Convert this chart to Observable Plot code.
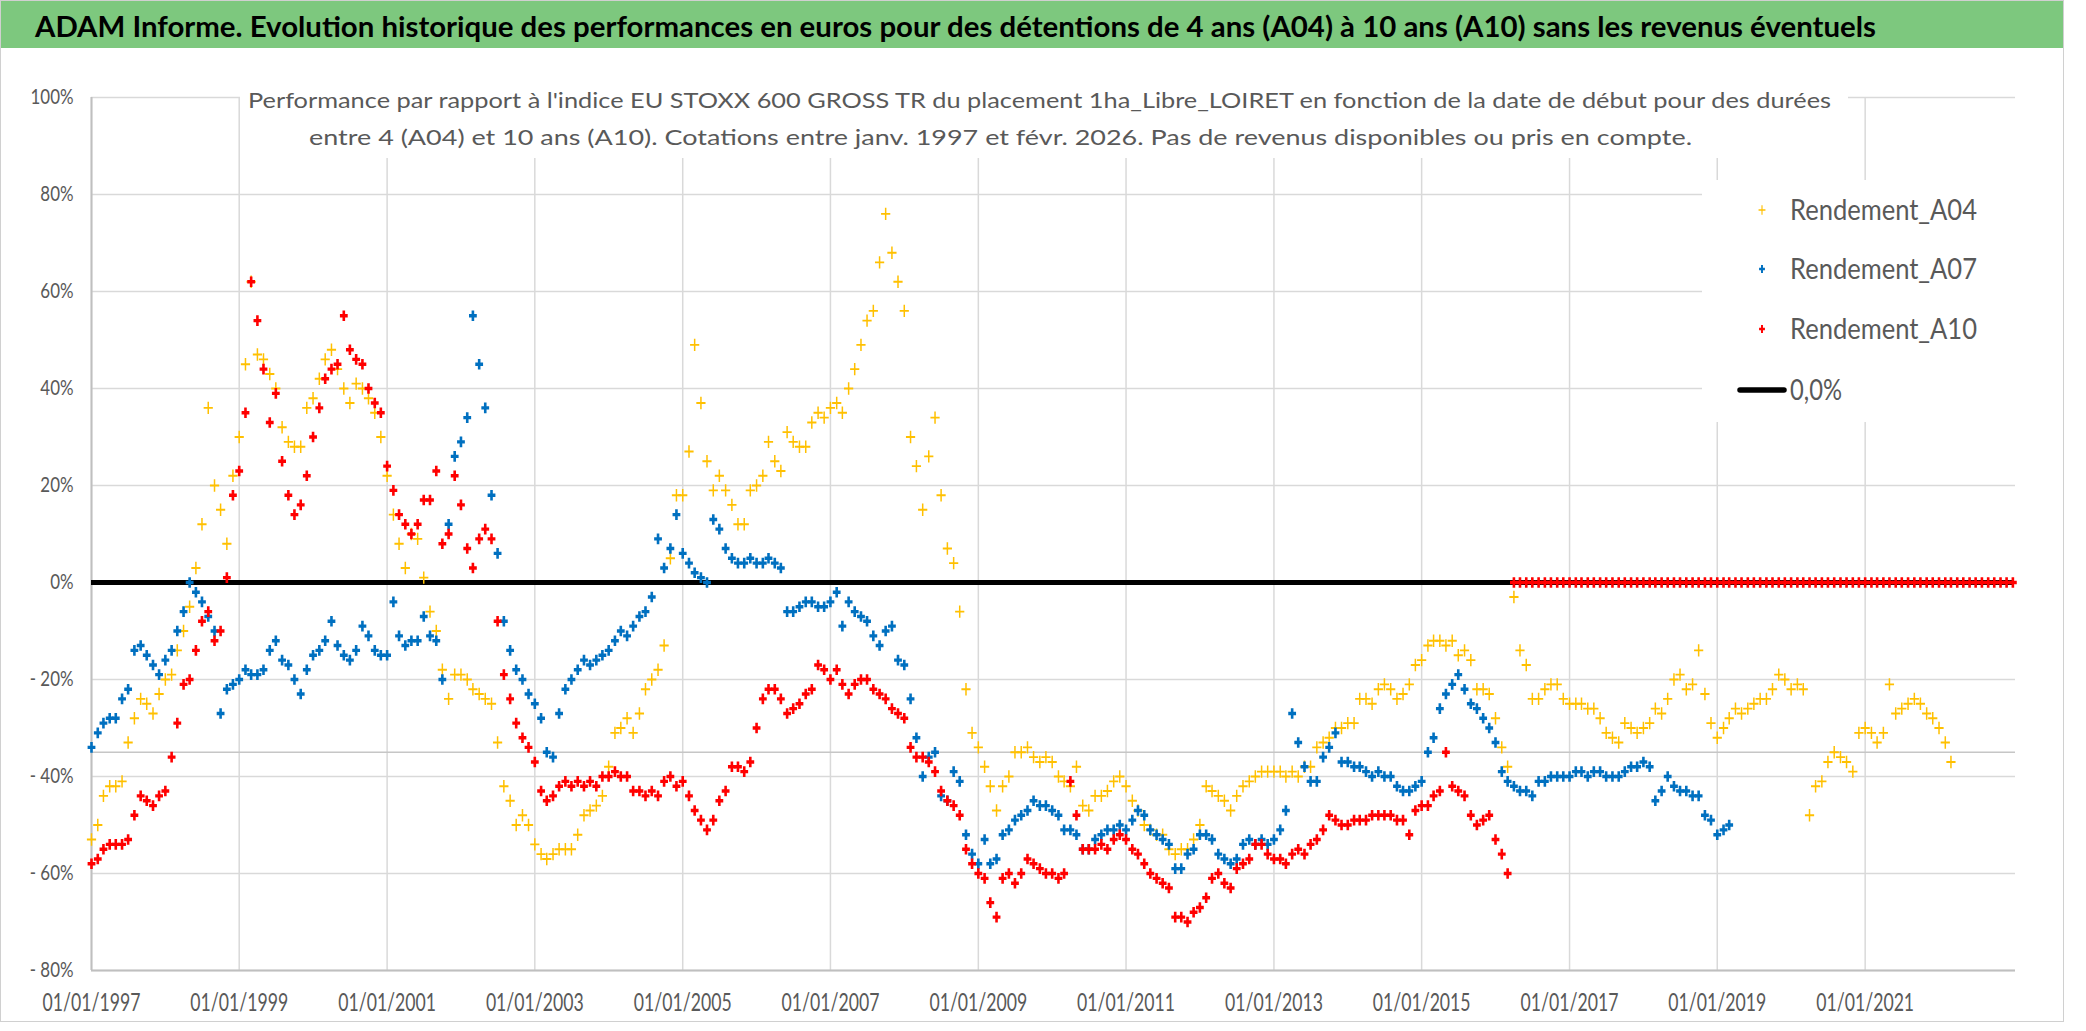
<!DOCTYPE html>
<html><head><meta charset="utf-8">
<script src="https://cdn.jsdelivr.net/npm/d3@7"></script>
<script src="https://cdn.jsdelivr.net/npm/@observablehq/plot@0.6"></script>
<style>
html,body{margin:0;padding:0;background:#fff;}
#wrap{position:relative;width:2086px;height:1031px;overflow:hidden;background:#fff;font-family:Lato,"Open Sans",sans-serif;}
#header{position:absolute;left:0;top:0;width:2086px;height:48px;}
#chart{position:absolute;left:0;top:48px;}
#overlay{position:absolute;left:0;top:0;pointer-events:none;}
</style>
</head><body>
<div id="wrap"><div id="header"></div><div id="chart"></div></div>
<script>
// ---- Data: monthly readings (percent), starting January 1997 ----
const startMonth = "1997-01-01";
const seriesNames = ["Rendement_A04", "Rendement_A07", "Rendement_A10"];
const seriesColors = ["#FFC000", "#0070C0", "#FF0000"];
const A04 = [
 -53,-50,-44,-42,-42,-41,-33,-28,-24,-25,-27,-23,
 -20,-19,-14,-10,-5,3,12,36,20,15,8,22,
 30,45,62,47,46,43,40,32,29,28,28,36,
 38,42,46,48,44,40,37,41,40,38,35,30,
 22,14,8,3,10,9,1,-6,-10,-18,-24,-19,
 -19,-20,-22,-23,-24,-25,-33,-42,-45,-50,-48,-50,
 -54,-56,-57,-56,-55,-55,-55,-52,-48,-47,-46,-44,
 -38,-31,-30,-28,-31,-27,-22,-20,-18,-13,5,18,
 18,27,49,37,25,19,22,19,16,12,12,19,
 20,22,29,25,23,31,29,28,28,33,35,34,
 36,37,35,40,44,49,54,56,66,76,68,62,
 56,30,24,15,26,34,18,7,4,-6,-22,-31,
 -34,-38,-42,-47,-42,-40,-35,-35,-34,-36,-37,-36,
 -37,-40,-41,-42,-38,-46,-47,-44,-44,-43,-41,-40,
 -42,-45,-47,-50,-51,-52,-52,-55,-56,-55,-55,-53,
 -50,-42,-43,-44,-45,-47,-44,-42,-41,-40,-39,-39,
 -39,-39,-40,-39,-40,-38,-38,-34,-33,-32,-30,-30,
 -29,-29,-24,-24,-25,-22,-21,-22,-24,-23,-21,-17,
 -16,-13,-12,-12,-13,-12,-15,-14,-16,-22,-22,-23,
 -28,-34,-38,-3,-14,-17,-24,-24,-22,-21,-21,-24,
 -25,-25,-25,-26,-26,-28,-31,-32,-33,-29,-30,-31,
 -30,-29,-26,-27,-24,-20,-19,-22,-21,-14,-23,-29,
 -32,-30,-28,-26,-27,-26,-25,-24,-24,-22,-19,-20,
 -22,-21,-22,-48,-42,-41,-37,-35,-36,-37,-39,-31,
 -30,-31,-33,-31,-21,-27,-26,-25,-24,-25,-27,-28,
 -30,-33,-37
];
const A07 = [
 -34,-31,-29,-28,-28,-24,-22,-14,-13,-15,-17,-19,
 -16,-14,-10,-6,0,-2,-4,-7,-10,-27,-22,-21,
 -20,-18,-19,-19,-18,-14,-12,-16,-17,-20,-23,-18,
 -15,-14,-12,-8,-13,-15,-16,-14,-9,-11,-14,-15,
 -15,-4,-11,-13,-12,-12,-7,-11,-12,-20,12,26,
 29,34,55,45,36,18,6,-8,-14,-18,-20,-23,
 -25,-28,-35,-36,-27,-22,-20,-18,-16,-17,-16,-15,
 -14,-12,-10,-11,-9,-7,-6,-3,9,3,7,14,
 6,4,2,1,0,13,11,7,5,4,4,5,
 4,4,5,4,3,-6,-6,-5,-4,-4,-5,-5,
 -4,-2,-9,-4,-6,-7,-8,-11,-13,-10,-9,-16,
 -17,-24,-32,-40,-36,-35,-44,-45,-39,-41,-52,-56,
 -58,-53,-58,-57,-52,-51,-49,-48,-47,-45,-46,-46,
 -47,-48,-51,-51,-52,-55,-55,-53,-52,-51,-51,-50,
 -51,-49,-47,-48,-51,-52,-53,-54,-59,-59,-56,-55,
 -52,-52,-53,-56,-57,-58,-57,-54,-53,-54,-53,-54,
 -53,-51,-47,-27,-33,-38,-41,-41,-36,-34,-31,-37,
 -37,-38,-38,-39,-40,-39,-40,-40,-42,-43,-43,-42,
 -41,-35,-32,-26,-23,-21,-19,-22,-25,-26,-28,-30,
 -33,-39,-41,-42,-43,-43,-44,-41,-41,-40,-40,-40,
 -40,-39,-39,-40,-39,-39,-40,-40,-40,-39,-38,-38,
 -37,-38,-45,-43,-40,-42,-43,-43,-44,-44,-48,-49,
 -52,-51,-50
];
const A10 = [
 -58,-57,-55,-54,-54,-54,-53,-48,-44,-45,-46,-44,
 -43,-36,-29,-21,-20,-14,-8,-6,-12,-10,1,18,
 23,35,62,54,44,33,39,25,18,14,16,22,
 30,36,42,44,45,55,48,46,45,40,37,35,
 24,19,14,12,10,12,17,17,23,8,10,22,
 16,7,3,9,11,9,-8,-19,-24,-29,-32,-34,
 -37,-43,-45,-44,-42,-41,-42,-41,-42,-41,-42,-40,
 -40,-39,-40,-40,-43,-43,-44,-43,-44,-41,-40,-42,
 -41,-44,-47,-49,-51,-49,-45,-43,-38,-38,-39,-37,
 -30,-24,-22,-22,-24,-27,-26,-25,-23,-22,-17,-18,
 -20,-18,-21,-23,-21,-20,-20,-22,-23,-24,-26,-27,
 -28,-34,-36,-36,-37,-39,-43,-45,-46,-48,-55,-58,
 -60,-61,-66,-69,-61,-60,-62,-60,-57,-58,-59,-60,
 -60,-61,-60,-41,-48,-55,-55,-55,-54,-55,-53,-52,
 -53,-55,-56,-58,-60,-61,-62,-63,-69,-69,-70,-68,
 -67,-65,-61,-60,-62,-63,-59,-58,-57,-54,-54,-56,
 -57,-57,-58,-56,-55,-56,-54,-53,-51,-48,-49,-50,
 -50,-49,-49,-49,-48,-48,-48,-48,-49,-49,-52,-47,
 -46,-46,-44,-43,-35,-42,-43,-44,-48,-50,-49,-48,
 -53,-56,-60,0,0,0,0,0,0,0,0,0,
 0,0,0,0,0,0,0,0,0,0,0,0,
 0,0,0,0,0,0,0,0,0,0,0,0,
 0,0,0,0,0,0,0,0,0,0,0,0,
 0,0,0,0,0,0,0,0,0,0,0,0,
 0,0,0,0,0,0,0,0,0,0,0,0,
 0,0,0,0,0,0,0,0,0,0,0,0,
 0
];
const zeroLabel = "0,0%";
const refLevel = -35;              // light grey horizontal reference line
const yTicks = [-80,-60,-40,-20,0,20,40,60,80,100];
const xTickYears = [1997,1999,2001,2003,2005,2007,2009,2011,2013,2015,2017,2019,2021];
const xDomain = ["1997-01-01", "2023-01-14"];

const titleText = "ADAM Informe. Evolution historique des performances en euros pour des détentions de 4 ans (A04) à 10 ans (A10) sans les revenus éventuels";
const subLine1 = "Performance par rapport à l'indice EU STOXX 600 GROSS TR  du placement 1ha_Libre_LOIRET en fonction de la date de début pour des durées";
const subLine2 = "entre 4 (A04) et 10 ans (A10). Cotations entre janv. 1997 et févr. 2026. Pas de revenus disponibles ou pris en compte.";

// ---- Build rows ----
const start = new Date(startMonth + "T00:00:00Z");
const rowsOf = (vals, name) => vals.map((v, i) => ({date: d3.utcMonth.offset(start, i), v, series: name}));
const rA04 = rowsOf(A04, seriesNames[0]);
const rA07 = rowsOf(A07, seriesNames[1]);
const rA10 = rowsOf(A10, seriesNames[2]);
const lastDate = rA10[rA10.length - 1].date;
const xTicks = xTickYears.map(y => new Date(Date.UTC(y, 0, 1)));

function plusSymbol(hw, hh, tx, ty) {
  return {draw(ctx) { ctx.rect(-hw, -ty / 2, 2 * hw, ty); ctx.rect(-tx / 2, -hh, tx, 2 * hh); }};
}
const symThin = plusSymbol(4.6, 6.2, 1.5, 1.9);
const symBold = plusSymbol(3.9, 5.3, 2.6, 3.4);
const pct = d => d < 0 ? "- " + Math.abs(d) + "%" : d + "%";

const plot = Plot.plot({
  width: 2086, height: 983,
  marginLeft: 91, marginRight: 71, marginTop: 49, marginBottom: 61,
  style: {fontFamily: "Lato, 'Open Sans', sans-serif", fontSize: "20px", color: "#595959", background: "transparent", overflow: "visible"},
  x: {type: "utc", domain: xDomain.map(d => new Date(d + "T00:00:00Z")), label: null},
  y: {domain: [-80, 100], label: null},
  marks: [
    Plot.gridX(xTicks, {stroke: "#d9d9d9", strokeOpacity: 1, strokeWidth: 1.5}),
    Plot.gridY(yTicks, {stroke: "#d9d9d9", strokeOpacity: 1, strokeWidth: 1.5}),
    Plot.ruleY([refLevel], {stroke: "#c6c6c6", strokeWidth: 1.6}),
    Plot.ruleX([xTicks[0]], {stroke: "#bfbfbf", strokeWidth: 2}),
    Plot.ruleY([-80], {stroke: "#bfbfbf", strokeWidth: 2}),
    Plot.ruleY([0], {x1: () => start, x2: () => lastDate, stroke: "#000", strokeWidth: 5}),
    Plot.dot(rA04, {x: "date", y: "v", symbol: symThin, fill: seriesColors[0], stroke: "none", r: 4}),
    Plot.dot(rA07, {x: "date", y: "v", symbol: symBold, fill: seriesColors[1], stroke: "none", r: 4}),
    Plot.dot(rA10, {x: "date", y: "v", symbol: symBold, fill: seriesColors[2], stroke: "none", r: 4}),
    Plot.axisX(xTicks, {tickFormat: d3.utcFormat("%d/%m/%Y"), tickSize: 0, tickPadding: 23, fontSize: 25, label: null}),
    Plot.axisY(yTicks, {tickFormat: pct, tickSize: 0, tickPadding: 18, fontSize: 21, label: null})
  ]
});
document.getElementById("chart").appendChild(plot);

// squeeze tick labels horizontally to match the narrow lettering
function squeeze(root, label, sample, target) {
  const texts = [...root.querySelectorAll(`g[aria-label="${label}"] text`)];
  let s = 1;
  for (const t of texts) if (t.textContent === sample) s = target / t.getComputedTextLength();
  for (const t of texts) t.setAttribute("transform", (t.getAttribute("transform") || "") + ` scale(${s},1)`);
}
squeeze(plot, "x-axis tick label", "01/01/1997", 98);
squeeze(plot, "y-axis tick label", "100%", 43);

// ---- Header (title bar) ----
const hdr = d3.select("#header").append("svg").attr("width", 2086).attr("height", 48);
hdr.append("rect").attr("x", 0).attr("y", 0).attr("width", 2064).attr("height", 48).attr("fill", "#7dc87e");
hdr.append("line").attr("x1", 0).attr("x2", 2064).attr("y1", 0.5).attr("y2", 0.5).attr("stroke", "#9a9a9a");
hdr.append("text").attr("x", 35).attr("y", 37).attr("font-family", "Lato, sans-serif").attr("font-weight", "bold")
  .attr("font-size", 29).attr("fill", "#000").attr("textLength", 1841).attr("lengthAdjust", "spacingAndGlyphs").text(titleText);

// ---- Overlay: subtitle box and legend ----
const ov = d3.select("#wrap").append("svg").attr("id", "overlay").attr("width", 2086).attr("height", 1031);
ov.append("rect").attr("x", 240).attr("y", 60).attr("width", 1608).attr("height", 98).attr("fill", "#fff");
ov.append("text").attr("x", 248).attr("y", 108).attr("font-family", "Lato, sans-serif").attr("font-size", 21)
  .attr("fill", "#595959").attr("textLength", 1583).attr("lengthAdjust", "spacingAndGlyphs").text(subLine1);
ov.append("text").attr("x", 309).attr("y", 145).attr("font-family", "Lato, sans-serif").attr("font-size", 21)
  .attr("fill", "#595959").attr("textLength", 1383).attr("lengthAdjust", "spacingAndGlyphs").text(subLine2);

const leg = ov.append("g");
leg.append("rect").attr("x", 1702).attr("y", 180).attr("width", 313).attr("height", 242).attr("fill", "#fff");
const legRows = [
  {label: seriesNames[0], color: seriesColors[0], sym: symThin, y: 220},
  {label: seriesNames[1], color: seriesColors[1], sym: symBold, y: 279},
  {label: seriesNames[2], color: seriesColors[2], sym: symBold, y: 339}
];
for (const r of legRows) {
  leg.append("path").attr("d", d3.symbol(r.sym)()).attr("transform", `translate(1762,${r.y - 10}) scale(0.75)`).attr("fill", r.color);
  leg.append("text").attr("x", 1790).attr("y", r.y).attr("font-family", "Lato, sans-serif").attr("font-size", 29)
    .attr("fill", "#595959").attr("textLength", 187).attr("lengthAdjust", "spacingAndGlyphs").text(r.label);
}
leg.append("line").attr("x1", 1740).attr("x2", 1784).attr("y1", 390).attr("y2", 390).attr("stroke", "#000").attr("stroke-width", 5.5).attr("stroke-linecap", "round");
leg.append("text").attr("x", 1790).attr("y", 400).attr("font-family", "Lato, sans-serif").attr("font-size", 29)
  .attr("fill", "#595959").attr("textLength", 52).attr("lengthAdjust", "spacingAndGlyphs").text(zeroLabel);

// chart-area frame
ov.append("rect").attr("x", 0.5).attr("y", 0.5).attr("width", 2063).attr("height", 1021).attr("fill", "none").attr("stroke", "#d0d0d0");
</script>
</body></html>
